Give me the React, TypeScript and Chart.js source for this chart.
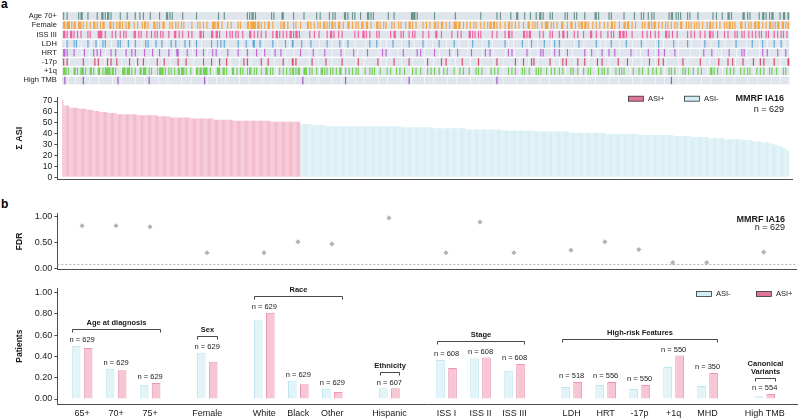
import React, { useEffect, useRef } from "react";
import { Chart, registerables } from "chart.js";
Chart.register(...registerables);

const FONT = '"Liberation Sans", Arial, Helvetica, sans-serif';
const AXIS = "#4d4d4d";
const TEXT = "#1a1a1a";

// ---------------- panel a : annotation tracks ----------------
const TRACK_LABELS = ["Age 70+", "Female", "ISS III", "LDH", "HRT", "-17p", "+1q", "High TMB"];
const TRACK_COLORS = ["#66938a", "#f5a544", "#f0609f", "#5aa8d6", "#c064d6", "#de4a66", "#72d152", "#a552c9"];
const NEG_CELL = "#dfe5ed";
// '.' = no, 'x' = yes, '_' = not available ; one character per patient (sorted by ASI)
const TRACK_AGE70 = [
  ".x..x..... ....x.xx.. ..x....... x...xx.x.x x.x.......",
  "x.....x... ...x...x.. x.....x... ....x..... xx.x.x....",
  "....x..... ......x... .......... .....x.... x.........",
  ".......... x.x.xx.x.. .......... .x.x...... xx........",
  "x........x .......... x..x...... .x..x.x... ....xx.x..",
  ".x.x....x. ....xx.x.x .......... ..x....x.. ..........",
  "..xxxx.x.. .......... ..x....... .......... x.........",
  ".......... ..x....... ......x..x ........x. ...xx.....",
  "x....x.... x..xx.x... ..x.x..... .....x.x.. ...x.x....",
  "..x....... .xx.x..... ...x.x.... ......x... .....x....",
  ".x.x...x.. x.x....... .....x.xx. .x.x.x.... .x.x......",
  "x......... ...x..x... .x....xx.x .........x x..x.x....",
  "...x..xx.x ..x.xx.... .x..xx..x",
];
const TRACK_FEMALE = [
  ".xx.xxx.x. xx..xxx.x. .x..x..xx. x..x.xx... .xx.x..x.x",
  "x.x..x.xx. ..x..x...x .xx.x....x x.x.x..xx. ...x.x..x.",
  "x..x.x.... ..x....x.x ..x..x.... xxx.xx..x. ...x..x...",
  "..x.x..... xx.xxxxx.x x.x..x..xx ..x......x .xx..x....",
  "x.x...x... ..xx.x..x. .x.x..xx.x .x.xx.x..x x..x...xx.",
  ".x..x.x..x x..xx..x.. ..xx.x..x. x....x.x.. .x.x...x..",
  "xx.x..x... ..x..x..x. ..xx.x..xx ..x..x...x xx.xx..x..",
  "x..x..x.x. ..x..x..x. xx.xx.x..x ...x..xx.x ..x..x...x",
  "...xx..x.x .x...x..xx x..x.x..x. ..xx...x.. xx..x..x.x",
  "x.xx.x...x ..x..x...x ..x..xx.x. ..x...xx.x x..x..x...",
  "..x.x..xx. x.xx..x..x ..x.x..x.. x.x..xx... x.x.x..x.x",
  ".x..x...x. xx.x..x..x ...x.x.xx. x.x....xx. .x..x.x..x",
  "x.xx..x..x ..xx.x.x.x x..xx.x.x",
];
const TRACK_ISS3 = [
  ".xx.x..xx. x..x..x... ..x.x..... .xxxx..x.. ...x..x...",
  "x..x.x.._. ..xx..x.x. ...x...x.. x.x..x.x.. ..x....xx.",
  ".x..x....x ..x..._..x x.x......x x..xx.x... ..x..x.x..",
  "x.x...x... ..xx..x..x ..x...x... ..x..xx.x. .x..x..xx.",
  "x.xx.x.... ....x...x. ..x...._.x ..xx.x...x ..x.......",
  "...x..x... xx.x..x... ..x.x..... ....x..xx. ...x.x....",
  "x..x.x.... ..x....x.. ...xx...x. .......x.. ..x..x....",
  "..xx.x.x.. x.x....... ..x...x... ...x..xx.x .........x",
  "x.x.xx.... ...x..x.._ ..x.x..... x..xx..x.. ...x..x...",
  ".x.....xx. ..x...x... ..x..x.x.. ..xx.xx.x. ...x......",
  "..x...x..x ...x..x... ..xx.x..x. ..x....... .x..x..x..",
  "..x...x... xx.x...x.. ...x..x... ..x.x...x. x...x..x..",
  "x..x.x...x .x....x..x ..x.x..x.",
];
const TRACK_LDH = [
  ".._.x...._ x.x..._... ..x.._...x ._...x.x.. .._.....x.",
  "x..._..x.. _..x...._. ..x.x..._. .x....x... _...x...x.",
  "..._..x... x._...x... _........x ..._x..x.. x.._......",
  "..x.._...x ..._.xx... .x.._..... ..x..._... ...x.._..x",
  "_......x.. ._...x.... .._......x ..._...... x.._...x..",
  "..._...... .._...x... ..x.._.... _.....x... ..._......",
  "x..._..... ..x.._.... _.....x... .._......x ..._......",
  "._...x.... ..._.....x .._....... ...x.._... _.......x.",
  "..._..x... ._.....x.. ..._..x... x.._...... ..._...x..",
  "._........ ..x.._.... _....x.... .._.....x. ..._......",
  ".x.._..... ..._..x... _........x ..._...... .x.._.....",
  "..._..x... ._......x. ..._...... _..x...... .._....x..",
  "..._..x... _.....x.._ ..x.._...",
];
const TRACK_HRT = [
  ".xx.x..... x....._..x ..._...x.. x..x..._.. ..x...x...",
  "..._.x.... x..x..._.. .x......x. _...x..... ..x..._..x",
  "x.._....x. .._...x... ..x.._.... x..x.._... ...x....._",
  "..x..._... x.._....x. ..._.x.... ._..x....x ..._......",
  "_.....x... ..._...x.. _......x.. ..._...... .x.._.....",
  "..x.._.... _...x..... ..._...x.. x.._...... _....x....",
  "..._...x.. x.._...... ..x..._... .....x.._. ..x.......",
  "_...x..... ..._..x... x.._...... ..._..x..x ._........",
  "..x.._.... ._..x.x... ..._..x... x.._...x.. ._........",
  "..x.._..x. ..._...x.. _..x....x. .._....... ..x..._...",
  "_......x.. ..._..x... .x.._..... x.._...... ..._......",
  "._...x.... ..x.._.... _......x.. ..._....x. x._.......",
  "..._..x... x._......x ..._..x..",
];
const TRACK_DEL17P = [
  ".x..x._... ........x. ..._....x. .x...._..x ..x....x..",
  "._......x. ..._.x.... x..._..... ..x..._.x. ..._......",
  "x.._...x.. ..._...... ._x......x ..._..x... ..x.._....",
  "..._...x.. x.._...... ..x.._..x. ..._...... .x.._....x",
  "_.x....... ..._..x... ._......x. ..._...... ..x.._....",
  "..._..x... ._........ ...x.._... _......x.. ..._......",
  "x.._...... ..._..x... ._......x. ..x.._.... _.....x...",
  "..._...... x._....... ..._..x... ._........ ..x.._...x",
  "..._..x.x. ._........ ..x.._.... _..x..x... ..._..x...",
  "..x.._.... _..x...x.. ..._...... .x.._....x ..._......",
  "._......x. ..._..x... x._....... ..._...x.. ._........",
  "..x.._.... _.......x. ..._..x... x._......x ..._....x.",
  "._..x..x.. ..._..x... ._......x",
];
const TRACK_GAIN1Q = [
  ".xxx.x.._. xx.x..xxx. x...xx.x._ .xx..x.xxx xx.xx.x...",
  "._xxx.xxx. x..x.._xx. xxx..x.x.. ._x.xxxx.x ..x.x..x._",
  "xx.xxx.x.. .x.._.xx.x x.xxxx..x. ._..xxx..x x.x.._.xx.",
  ".x..x.x.._ x.xx..x.x. ._x...xx.. x.x.._..x. .x..x..x.x",
  "x.x.xx._.x xx..x.x... x._.xx.x.x ..x.x..x.. xx._.x..x.",
  ".x..x.x._. ..x...x.x. x._..x.... .x..x.._.x ..x...x...",
  "._.x..x... x..._.x..x ..x...x._. x..x.....x ._..x..x..",
  "..x._...x. x..x...._. .x..x..x.. ._....x..x ..x.._..x.",
  "x...x.._.. x.x.x....x ._.x..x... x..x._.... x.x...x._.",
  ".x...x.x.. ._..x..x.x ..x._....x ..x.x.x... ._..x....x",
  "..x.._.x.. .x..x...x. ._...x.x.. x..._..x.x ..x...x._.",
  "x..x...._. .xx.x..x.. ._...x..x. .x.._..x.. x..x.x.._.",
  ".x..x..x._ ..x.x...x. ._..x.x..",
];
const TRACK_HIGHTMB = [
  "..x.._.... ._......x. ..._...... ._........ ..._....x.",
  "._........ ..._...... ._...x.... ..._...... ._........",
  "..._...... ._........ ...x._.... ..._...... ._........",
  "..._...... ._........ ..._...... ._........ ..._......",
  "._......x. ..._...... ._........ ..._...... ._...x....",
  "..._...... ._........ ..._...... ._........ ..._......",
  "x._....... ..._...... ._........ ..._...... ._........",
  "..._...... ._........ ..._..x... ._........ ..._......",
  "._........ ..._...... ._........ ..._...... ._........",
  "..._...... ._........ ..._...... ._........ ..._......",
  "._........ ..._...... ._.....x.. ..._...... ._........",
  "..._...... ._........ ..._...... ._........ ..._......",
  "._........ ..._...... ._.......",
];
const TRACKS = [TRACK_AGE70, TRACK_FEMALE, TRACK_ISS3, TRACK_LDH, TRACK_HRT, TRACK_DEL17P, TRACK_GAIN1Q, TRACK_HIGHTMB];

// ---------------- panel a : sum of ASI per patient (value -> number of patients) ----------------
const ASI_POS_VALUES = [71, 66, 64, 63, 62, 61, 60, 59, 58, 57, 56, 55, 54, 53, 52, 51];
const ASI_POS_COUNTS = [1, 5, 8, 7, 6, 5, 7, 8, 18, 17, 11, 18, 20, 17, 32, 26];
const ASI_NEG_VALUES = [49, 48, 47, 46, 45, 44, 43, 42, 41, 40, 39, 38, 37, 36, 35, 34, 33, 32, 31, 30, 29, 28, 27, 26, 25, 24];
const ASI_NEG_COUNTS = [10, 12, 65, 28, 29, 30, 29, 30, 31, 29, 30, 15, 15, 15, 15, 8, 8, 7, 4, 3, 3, 2, 2, 1, 1, 1];
const ASI_TICKS = [0, 10, 20, 30, 40, 50, 60, 70];
const COHORT = "MMRF IA16";
const COHORT_N = 629;

// ---------------- panel b ----------------
const GROUPS = ["Age at diagnosis", "Sex", "Race", "Ethnicity", "Stage", "High-risk Features", "Canonical\nVariants"];
const CATEGORIES = ["65+", "70+", "75+", "Female", "White", "Black", "Other", "Hispanic", "ISS I", "ISS II", "ISS III", "LDH", "HRT", "-17p", "+1q", "MHD", "High TMB"];
const CATEGORY_GROUP = [0, 0, 0, 1, 2, 2, 2, 3, 4, 4, 4, 5, 5, 5, 5, 5, 6];
const FRAC_ASI_NEG = [0.50, 0.285, 0.135, 0.435, 0.74, 0.172, 0.097, 0.10, 0.367, 0.38, 0.266, 0.113, 0.132, 0.094, 0.30, 0.122, 0.025];
const FRAC_ASI_POS = [0.48, 0.27, 0.15, 0.35, 0.81, 0.138, 0.066, 0.10, 0.292, 0.39, 0.33, 0.16, 0.16, 0.132, 0.41, 0.245, 0.047];
const N_TESTED = [629, 629, 629, 629, 629, 629, 629, 607, 608, 608, 608, 518, 556, 550, 550, 350, 554];
const FDR = [0.83, 0.83, 0.81, 0.31, 0.31, 0.52, 0.48, 0.98, 0.31, 0.90, 0.31, 0.36, 0.52, 0.37, 0.12, 0.12, 0.32];
const FDR_THRESHOLD = 0.1;
const FDR_TICKS = [0, 0.5, 1];
const FRAC_TICKS = [0, 0.2, 0.4, 0.6, 0.8, 1.0];

// ---------------- styling / layout ----------------
const POS_BAR = "#f2b9cb";
const NEG_BAR = "#d7eef5";
const POS_FILL = "#f7c6d4";
const POS_EDGE = "#e996b0";
const NEG_FILL = "#e3f4f9";
const NEG_EDGE = "#bfe4ee";
const LEG_POS = "#e17595";
const LEG_NEG = "#cfeef6";
const AXIS_W = 57.3;
const GROUP_GAP = 0.68;

const catPos = CATEGORIES.map((_, i) => i + GROUP_GAP * CATEGORY_GROUP[i]);

function expand(values: number[], counts: number[]) {
  const out: number[] = [];
  values.forEach((v, i) => {
    for (let k = 0; k < counts[i]; k++) out.push(v);
  });
  return out;
}
const ASI_POS = expand(ASI_POS_VALUES, ASI_POS_COUNTS);
const ASI_NEG = expand(ASI_NEG_VALUES, ASI_NEG_COUNTS);
const N_ALL = ASI_POS.length + ASI_NEG.length;
const TOP_X_MIN = -4.8;
const TOP_X_MAX = N_ALL + 2.1;

const baseOpts: any = {
  responsive: false,
  animation: false,
  events: [],
  plugins: { legend: { display: false }, tooltip: { enabled: false } },
};

function yAxis(min: number, max: number, ticks: number[], fmt: (v: number) => string, title: string, tsize: number, fsize: number) {
  const lh = tsize * 1.2;
  return {
    type: "linear",
    min,
    max,
    afterBuildTicks: (s: any) => {
      s.ticks = ticks.map((v) => ({ value: v }));
    },
    afterFit: (s: any) => {
      s.width = AXIS_W;
    },
    ticks: { autoSkip: false, callback: (v: any) => fmt(Number(v)), font: { family: FONT, size: fsize }, color: TEXT, padding: 2 },
    grid: { display: true, drawOnChartArea: false, drawTicks: true, tickLength: 3, color: AXIS },
    border: { display: true, color: AXIS, width: 1 },
    title: {
      display: true,
      text: title,
      color: TEXT,
      font: { family: FONT, size: tsize, weight: "bold" },
      padding: { top: 20 - lh / 2, bottom: 0 },
    },
  };
}

function legendBox(ctx: CanvasRenderingContext2D, x: number, y: number, fill: string, label: string) {
  ctx.fillStyle = fill;
  ctx.fillRect(x, y - 2.5, 15, 5);
  ctx.strokeStyle = "#333";
  ctx.lineWidth = 0.8;
  ctx.strokeRect(x + 0.5, y - 2.5, 15, 5);
  ctx.fillStyle = TEXT;
  ctx.font = `7.5px ${FONT}`;
  ctx.textAlign = "left";
  ctx.textBaseline = "middle";
  ctx.fillText(label, x + 20, y);
}

function cohortText(ctx: CanvasRenderingContext2D, xr: number, y1: number, y2: number) {
  ctx.fillStyle = TEXT;
  ctx.textAlign = "right";
  ctx.textBaseline = "middle";
  ctx.font = `bold 9px ${FONT}`;
  ctx.fillText(COHORT, xr, y1);
  ctx.font = `9px ${FONT}`;
  ctx.fillText(`n = ${COHORT_N}`, xr, y2);
}

function useChart(make: (c: HTMLCanvasElement) => Chart) {
  const ref = useRef<HTMLCanvasElement>(null);
  useEffect(() => {
    if (!ref.current) return;
    const chart = make(ref.current);
    return () => chart.destroy();
  }, []);
  return ref;
}

function TracksCanvas() {
  const ref = useChart((c) => {
    const datasets = TRACKS.map((chunks, t) => {
      const s = chunks.join("").replace(/ /g, "");
      const data: any[] = [];
      const colors: string[] = [];
      for (let i = 0; i < Math.min(s.length, N_ALL); i++) {
        if (s[i] === "_") continue;
        data.push({ x: i, y: [t + 0.13, t + 0.87] });
        colors.push(s[i] === "x" ? TRACK_COLORS[t] : NEG_CELL);
      }
      return { data, backgroundColor: colors, borderWidth: 0, grouped: false, barPercentage: 1, categoryPercentage: 1 };
    });
    return new Chart(c, {
      type: "bar",
      data: { datasets } as any,
      options: {
        ...baseOpts,
        layout: { padding: { top: 11.5, bottom: 0.5, left: 0, right: 8 } },
        scales: {
          x: { type: "linear", min: TOP_X_MIN, max: TOP_X_MAX, display: false, offset: false },
          y: {
            type: "linear",
            min: 0,
            max: TRACK_LABELS.length,
            reverse: true,
            afterBuildTicks: (s: any) => {
              s.ticks = TRACK_LABELS.map((_, i) => ({ value: i + 0.5 }));
            },
            afterFit: (s: any) => {
              s.width = AXIS_W;
            },
            ticks: {
              autoSkip: false,
              callback: (_v: any, i: number) => TRACK_LABELS[i],
              font: { family: FONT, size: 7.5 },
              color: TEXT,
              padding: 0.5,
            },
            grid: { display: false, drawTicks: false },
            border: { display: false },
          },
        },
      } as any,
    });
  });
  return <canvas ref={ref} width={800} height={90} style={{ position: "absolute", left: 0, top: 0, width: 800, height: 90 }} />;
}

function AsiCanvas() {
  const ref = useChart((c) => {
    const plugin = {
      id: "asiLegend",
      afterDraw(chart: any) {
        const ctx = chart.ctx;
        ctx.save();
        legendBox(ctx, 628, 8.7, LEG_POS, "ASI+");
        legendBox(ctx, 684, 8.7, LEG_NEG, "ASI-");
        cohortText(ctx, 784, 8.3, 19.3);
        ctx.restore();
      },
    };
    return new Chart(c, {
      type: "bar",
      data: {
        datasets: [
          {
            label: "ASI+",
            data: ASI_POS.map((v, i) => ({ x: i, y: v })),
            backgroundColor: POS_BAR,
            borderWidth: 0,
            grouped: false,
            barPercentage: 0.93,
            categoryPercentage: 1,
          },
          {
            label: "ASI-",
            data: ASI_NEG.map((v, i) => ({ x: ASI_POS.length + i, y: v })),
            backgroundColor: NEG_BAR,
            borderWidth: 0,
            grouped: false,
            barPercentage: 0.93,
            categoryPercentage: 1,
          },
        ],
      } as any,
      options: {
        ...baseOpts,
        layout: { padding: { top: 6.7, bottom: 10.7, left: 0, right: 8 } },
        scales: {
          x: {
            type: "linear",
            min: TOP_X_MIN,
            max: TOP_X_MAX,
            offset: false,
            ticks: { display: false },
            grid: { display: false, drawTicks: false },
            border: { display: true, color: AXIS, width: 1 },
            afterFit: (s: any) => {
              s.height = 0;
            },
          },
          y: yAxis(-1.8, 73.7, ASI_TICKS, (v) => String(v), "Σ ASI", 9, 8.5),
        },
      } as any,
      plugins: [plugin],
    });
  });
  return <canvas ref={ref} width={800} height={100} style={{ position: "absolute", left: 0, top: 90, width: 800, height: 100 }} />;
}

const bottomX = (showLabels: boolean) => ({
  type: "linear",
  min: -0.73,
  max: 21.03,
  offset: false,
  afterBuildTicks: (s: any) => {
    s.ticks = catPos.map((v) => ({ value: v }));
  },
  ticks: {
    display: showLabels,
    autoSkip: false,
    maxRotation: 0,
    callback: (_v: any, i: number) => CATEGORIES[i],
    font: { family: FONT, size: 9 },
    color: TEXT,
    padding: 4,
  },
  grid: { display: false, drawTicks: false },
  border: { display: true, color: AXIS, width: 1 },
  afterFit: (s: any) => {
    s.height = showLabels ? 14 : 0;
  },
});

function FdrCanvas() {
  const ref = useChart((c) => {
    const plugin = {
      id: "fdrExtras",
      beforeDatasetsDraw(chart: any) {
        const { ctx, chartArea, scales } = chart;
        const y = Math.round(scales.y.getPixelForValue(FDR_THRESHOLD)) + 0.5;
        ctx.save();
        ctx.strokeStyle = "#a0a0a0";
        ctx.lineWidth = 0.8;
        ctx.setLineDash([2, 2]);
        ctx.beginPath();
        ctx.moveTo(chartArea.left, y);
        ctx.lineTo(chartArea.right, y);
        ctx.stroke();
        ctx.restore();
      },
      afterDraw(chart: any) {
        const ctx = chart.ctx;
        ctx.save();
        cohortText(ctx, 785, 25, 33);
        ctx.restore();
      },
    };
    return new Chart(c, {
      type: "scatter",
      data: {
        datasets: [
          {
            data: FDR.map((v, i) => ({ x: catPos[i], y: v })),
            pointStyle: "rectRot",
            pointRadius: 2.6,
            backgroundColor: "#b3b3b3",
            borderWidth: 0,
          },
        ],
      } as any,
      options: {
        ...baseOpts,
        layout: { padding: { top: 18.3, bottom: 5.2, left: 0, right: 3 } },
        scales: {
          x: bottomX(false),
          y: yAxis(-0.015, 1.07, FDR_TICKS, (v) => v.toFixed(2), "FDR", 8.5, 9),
        },
      } as any,
      plugins: [plugin],
    });
  });
  return <canvas ref={ref} width={800} height={82} style={{ position: "absolute", left: 0, top: 195, width: 800, height: 82 }} />;
}

function PatientsCanvas() {
  const ref = useChart((c) => {
    const plugin = {
      id: "groupAnnotations",
      afterDatasetsDraw(chart: any) {
        const { ctx, scales } = chart;
        const x = scales.x;
        const y = scales.y;
        ctx.save();
        ctx.fillStyle = TEXT;
        ctx.textAlign = "center";
        ctx.textBaseline = "middle";
        ctx.font = `7.5px ${FONT}`;
        CATEGORIES.forEach((_, i) => {
          const top = Math.max(FRAC_ASI_NEG[i], FRAC_ASI_POS[i]);
          ctx.fillText(`n = ${N_TESTED[i]}`, x.getPixelForValue(catPos[i]), y.getPixelForValue(top + 0.055));
        });
        GROUPS.forEach((g, gi) => {
          const idx = CATEGORIES.map((_, i) => i).filter((i) => CATEGORY_GROUP[i] === gi);
          const top = Math.max(...idx.map((i) => Math.max(FRAC_ASI_NEG[i], FRAC_ASI_POS[i])));
          const by = Math.round(y.getPixelForValue(top + 0.155)) + 0.5;
          const x0 = Math.round(x.getPixelForValue(catPos[idx[0]] - 0.29)) + 0.5;
          const x1 = Math.round(x.getPixelForValue(catPos[idx[idx.length - 1]] + 0.29)) + 0.5;
          ctx.strokeStyle = "#333";
          ctx.lineWidth = 0.9;
          ctx.beginPath();
          ctx.moveTo(x0, by + 3);
          ctx.lineTo(x0, by);
          ctx.lineTo(x1, by);
          ctx.lineTo(x1, by + 3);
          ctx.stroke();
          ctx.font = `bold 7.5px ${FONT}`;
          const lines = g.split("\n");
          lines.forEach((ln, k) => {
            ctx.fillText(ln, (x0 + x1) / 2, by - 6.5 - (lines.length - 1 - k) * 8.5);
          });
        });
        ctx.restore();
      },
      afterDraw(chart: any) {
        const ctx = chart.ctx;
        ctx.save();
        legendBox(ctx, 696, 14, LEG_NEG, "ASI-");
        legendBox(ctx, 756, 14, LEG_POS, "ASI+");
        ctx.restore();
      },
    };
    return new Chart(c, {
      type: "bar",
      data: {
        datasets: [
          {
            label: "ASI-",
            data: CATEGORIES.map((_, i) => ({ x: catPos[i], y: FRAC_ASI_NEG[i] })),
            backgroundColor: NEG_FILL,
            borderColor: NEG_EDGE,
            borderWidth: 1,
            categoryPercentage: 0.706,
            barPercentage: 0.72,
          },
          {
            label: "ASI+",
            data: CATEGORIES.map((_, i) => ({ x: catPos[i], y: FRAC_ASI_POS[i] })),
            backgroundColor: POS_FILL,
            borderColor: POS_EDGE,
            borderWidth: 1,
            categoryPercentage: 0.706,
            barPercentage: 0.72,
          },
        ],
      } as any,
      options: {
        ...baseOpts,
        layout: { padding: { top: 8.3, bottom: 0, left: 0, right: 3 } },
        scales: {
          x: bottomX(true),
          y: yAxis(-0.047, 1.041, FRAC_TICKS, (v) => v.toFixed(2), "Patients", 8.5, 9),
        },
      } as any,
      plugins: [plugin],
    });
  });
  return <canvas ref={ref} width={800} height={138} style={{ position: "absolute", left: 0, top: 280, width: 800, height: 138 }} />;
}

export default function App() {
  const label = (t: string, top: number) => (
    <div style={{ position: "absolute", left: 1, top, font: `bold 12px ${FONT}`, color: "#000", lineHeight: "12px" }}>{t}</div>
  );
  return (
    <div style={{ position: "fixed", left: 0, top: 0, width: 800, height: 418, background: "#fff", overflow: "hidden" }}>
      {label("a", -2)}
      {label("b", 198)}
      <TracksCanvas />
      <AsiCanvas />
      <FdrCanvas />
      <PatientsCanvas />
    </div>
  );
}
